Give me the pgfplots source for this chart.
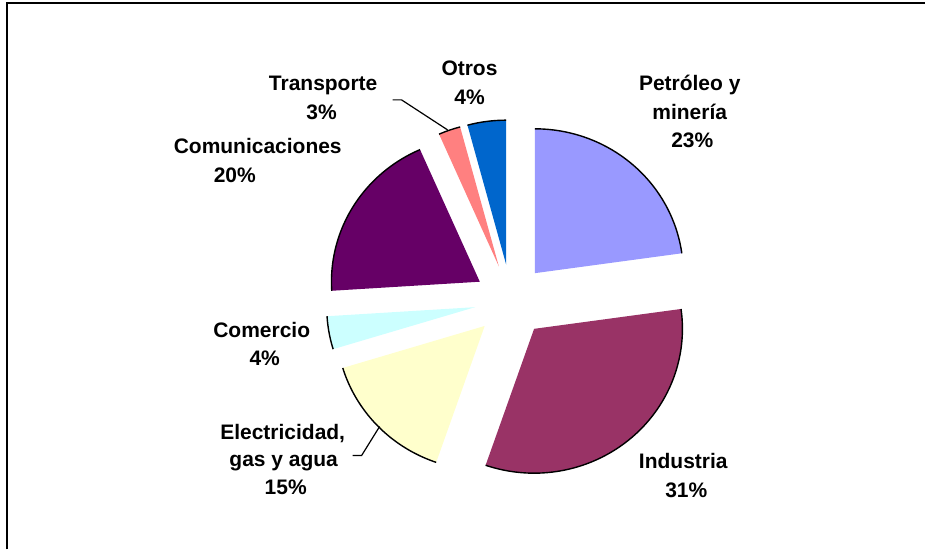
\documentclass[border=0pt]{standalone}
\usepackage{pgfplots}
\pgfplotsset{compat=1.18}
\usepackage{fontspec}
\setmainfont{Liberation Sans}
\definecolor{cPet}{HTML}{9999FF}
\definecolor{cInd}{HTML}{993366}
\definecolor{cEle}{HTML}{FFFFCC}
\definecolor{cCom}{HTML}{CCFFFF}
\definecolor{cCmu}{HTML}{660066}
\definecolor{cTra}{HTML}{FF8080}
\definecolor{cOtr}{HTML}{0066CC}
\def\cx{511.5}\def\cy{249.0}\def\Rx{148.5}\def\Ry{144.5}\def\D{36.5}
% #1 cumulative share before slice, #2 share, #3 colour
\newcommand\pieslice[3]{%
  \pgfmathsetmacro\as{90-3.6*#1}%
  \pgfmathsetmacro\ae{90-3.6*(#1+#2)}%
  \pgfmathsetmacro\am{(\as+\ae)/2}%
  \pgfmathsetmacro\px{\cx+\D*cos(\am)}%
  \pgfmathsetmacro\py{\cy+\D*sin(\am)}%
  \edef\temp{\noexpand\addplot[fill=#3, draw=none, domain=\ae:\as, samples=90]
     ({\px+\Rx*cos(x)},{\py+\Ry*sin(x)}) -- (axis cs:\px,\py) -- cycle;
     \noexpand\addplot[black, line width=1.4pt, domain=\ae:\as, samples=90]
     ({\px+\Rx*cos(x)},{\py+\Ry*sin(x)});}%
  \temp}
\begin{document}
\begin{tikzpicture}
\begin{axis}[x=1pt, y=1pt, xmin=0, xmax=926, ymin=0, ymax=550,
  hide axis, clip=false, scale only axis]
\path (axis cs:0,0) rectangle (axis cs:926,550);
% frame
\draw[black, line width=2pt] (axis cs:7,0) -- (axis cs:7,547) -- (axis cs:926,547);
% slices: Petroleo 22.8, Industria 32.5, Electricidad 15.0, Comercio 3.7,
% Comunicaciones 19.4, Transporte 2.4, Otros 4.2
\pieslice{0}{22.8}{cPet}
\pieslice{22.8}{32.5}{cInd}
\pieslice{55.3}{15.0}{cEle}
\pieslice{70.3}{3.7}{cCom}
\pieslice{74.0}{19.4}{cCmu}
\pieslice{93.4}{2.4}{cTra}
\pieslice{95.8}{4.2}{cOtr}
% leader lines
\draw[black, line width=1.2pt] (axis cs:393,450) -- (axis cs:402,450) -- (axis cs:448,420);
\draw[black, line width=1.2pt] (axis cs:353,94) -- (axis cs:362,94) -- (axis cs:380,123);
% labels
\tikzset{lab/.style={anchor=base, inner sep=0pt, font=\fontsize{21}{29}\selectfont\bfseries}}
\node[lab] at (axis cs:470,474.5) {Otros};
\node[lab] at (axis cs:470,445.5) {4\%};
\node[lab] at (axis cs:690.5,459.5) {Petróleo y};
\node[lab] at (axis cs:690.5,430.5) {minería};
\node[lab] at (axis cs:693,402.5) {23\%};
\node[lab] at (axis cs:323.5,459.5) {Transporte};
\node[lab] at (axis cs:322,430.5) {3\%};
\node[lab] at (axis cs:258,396.5) {Comunicaciones};
\node[lab] at (axis cs:235,367.5) {20\%};
\node[lab] at (axis cs:262,212.5) {Comercio};
\node[lab] at (axis cs:265,184.5) {4\%};
\node[lab] at (axis cs:283,110.5) {Electricidad,};
\node[lab] at (axis cs:284,82.5) {gas y agua};
\node[lab] at (axis cs:286,54.5) {15\%};
\node[lab] at (axis cs:684,80.5) {Industria};
\node[lab] at (axis cs:687,51.5) {31\%};
\end{axis}
\end{tikzpicture}
\end{document}
